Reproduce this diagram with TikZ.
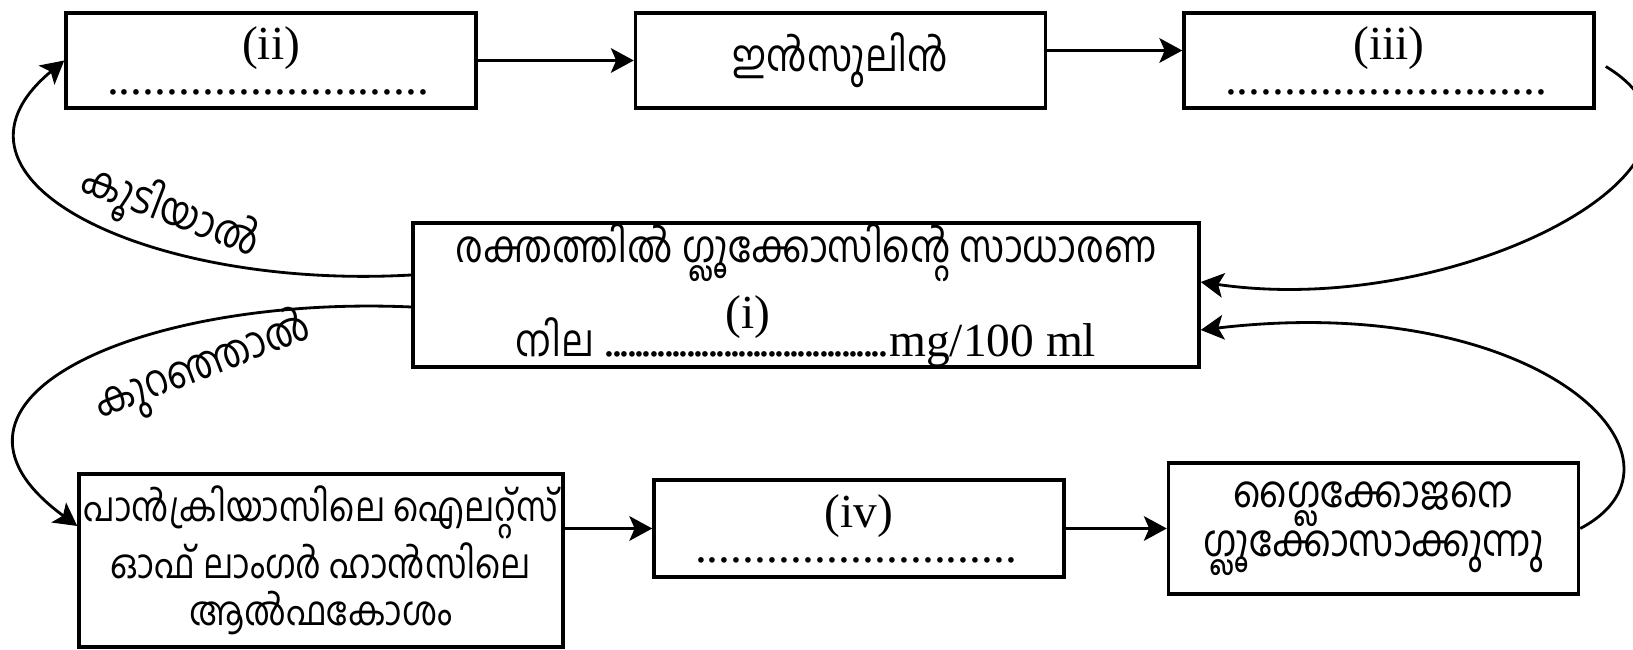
\documentclass[tikz,border=0pt]{standalone}
\usepackage{fontspec}
\setmainfont{Liberation Serif}
\newfontfamily\malfont[Script=Malayalam,FakeStretch=0.85]{Hind Kochi}
\usetikzlibrary{arrows.meta,positioning}

% row of dots to be filled in
\newcommand{\dotrow}[2]{\makebox[#1]{\leaders\hbox to #2{\hss.\hss}\hfill}}
% dotted blank with its mark sitting above
\newcommand{\blankmark}[2]{\rlap{\dotrow{#1}{2.1pt}}\makebox[#1]{\raisebox{8pt}{#2}}}

\begin{document}
\begin{tikzpicture}[>={Stealth[length=6.5pt,width=7pt,inset=1.5pt]},thick,
    box node/.style={rectangle,draw,line width=1pt,align=center,inner sep=0pt,
      minimum width=4.1cm,minimum height=0.95cm,font=\fontsize{13.5}{15}\selectfont},
    mal/.style={font=\malfont\fontsize{12.5}{14}\selectfont}]
  \useasboundingbox (0,0) rectangle (16.33,6.5);

  % Nodes
  \node[box node] (ii) at (2.71,5.895) {(ii)\\[-5pt]\dotrow{3.28cm}{3.4pt}};
  \node[box node,mal] (ins) [right=1.56cm of ii] {ഇൻസുലിൻ};
  \node[box node] (iii) [right=1.35cm of ins] {(iii)\\[-5pt]\dotrow{3.28cm}{3.4pt}};
  \node[box node,minimum width=7.86cm,minimum height=1.44cm] (blood) at (8.06,3.55)
    {{\malfont\fontsize{12.5}{14}\selectfont രക്തത്തിൽ ഗ്ലൂക്കോസിന്റെ സാധാരണ}\\[3pt]
     {\malfont\fontsize{12.5}{14}\selectfont നില} \blankmark{2.83cm}{(i)}mg/100 ml};
  \node[box node,mal,font=\malfont\fontsize{11.5}{13.4}\selectfont,
    minimum width=4.84cm,minimum height=1.73cm] (panc) at (3.21,0.895)
    {പാൻക്രിയാസിലെ ഐലറ്റ്സ്\\ഓഫ് ലാംഗർ ഹാൻസിലെ\\ആൽഫകോശം};
  \node[box node,minimum height=0.97cm] (iv) at (8.59,1.215) {(iv)\\[-5pt]\dotrow{3.28cm}{3.4pt}};
  \node[box node,mal,minimum height=1.31cm] (glyco) [right=1.01cm of iv]
    {ഗ്ലൈക്കോജനെ\\ഗ്ലൂക്കോസാക്കുന്നു};

  \node[mal,rotate=-21] (high) at (1.70,4.37) {കൂടിയാൽ};
  \node[mal,rotate=21] (low) at (2.03,2.82) {കുറഞ്ഞാൽ};

  % Edges
  \draw[->] (ii) -- (ins);
  \draw[->] ([yshift=0.1cm]ins.east) -- ([yshift=0.1cm]iii.west);
  \draw[->] (panc.east |- iv.west) -- (iv.west);
  \draw[->] (iv) -- (glyco);

  \draw[->] ([yshift=0.2cm]blood.west) .. controls (1.5,3.6) and (-0.8,4.7) .. (ii.west);
  \draw[->] ([yshift=-0.12cm]blood.west) .. controls (1.4,3.55) and (-0.95,2.5) .. ([yshift=0.345cm]panc.west);
  \draw[->] ([xshift=0.1cm,yshift=-0.06cm]iii.east) .. controls (17.6,4.9) and (14.6,3.3) .. ([yshift=0.13cm]blood.east);
  \draw[->] (glyco.east) .. controls (17.1,1.9) and (15.4,3.6) .. ([yshift=-0.35cm]blood.east);
\end{tikzpicture}
\end{document}
